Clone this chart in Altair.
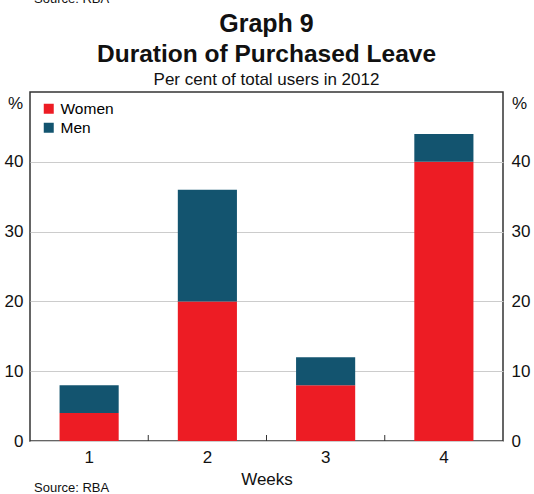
import altair as alt
import pandas as pd

weeks = ["1", "2", "3", "4"]
women = [4, 20, 8, 40]
men = [4, 16, 4, 4]
series = ["Women", "Men"]
colors = ["#ED1C24", "#13546F"]
y_ticks = [0, 10, 20, 30, 40]
boundaries = [1.5, 2.5, 3.5]

title1 = "Graph 9"
title2 = "Duration of Purchased Leave"
subtitle = "Per cent of total users in 2012"
x_title = "Weeks"
source = "Source: RBA"
unit = "%"

rows = []
for w, a, b in zip(weeks, women, men):
    rows.append({"week": w, "sex": "Women", "ord": 0, "value": a})
    rows.append({"week": w, "sex": "Men", "ord": 1, "value": b})
df = pd.DataFrame(rows)

FONT = "Liberation Sans"
W, H = 473, 349

bars = alt.Chart(df).mark_bar().encode(
    x=alt.X("week:N", sort=weeks,
            scale=alt.Scale(paddingInner=0.5, paddingOuter=0.25),
            axis=alt.Axis(title=x_title, labelAngle=0, ticks=False, domain=False,
                          labelFontSize=17, labelPadding=8, titleFontSize=17,
                          titleFontWeight="normal", titlePadding=6)),
    y=alt.Y("value:Q", stack="zero",
            scale=alt.Scale(domain=[0, 50], nice=False),
            axis=alt.Axis(orient="left", values=y_ticks, title=None, ticks=False,
                          domain=False, labelFontSize=17, labelPadding=7,
                          gridColor="#CCCCCC", gridWidth=1)),
    color=alt.Color("sex:N", scale=alt.Scale(domain=series, range=colors),
                    legend=alt.Legend(title=None, orient="none", legendX=11, legendY=9,
                                      symbolType="square", symbolSize=100,
                                      symbolStrokeWidth=0, symbolOpacity=1,
                                      labelFontSize=15.5, labelOffset=4,
                                      rowPadding=2, padding=0)),
    order=alt.Order("ord:Q"),
)

right_axis = alt.Chart(df).mark_point(opacity=0).encode(
    y=alt.Y("value:Q",
            scale=alt.Scale(domain=[0, 50], nice=False),
            axis=alt.Axis(orient="right", values=y_ticks, title=None, ticks=False,
                          domain=False, grid=False, labelFontSize=17, labelPadding=8)),
)

ticks = alt.Chart(pd.DataFrame({"b": boundaries})).mark_rule(color="#333333", strokeWidth=1).encode(
    x=alt.X("b:Q", scale=alt.Scale(domain=[0.5, 4.5]), axis=None),
    y=alt.value(H - 6),
    y2=alt.value(H),
)

def text_layer(txt, x, y, size, weight="normal", align="center"):
    return alt.Chart(pd.DataFrame({"t": [txt]})).mark_text(
        font=FONT, fontSize=size, fontWeight=weight, align=align,
        baseline="alphabetic", color="#111111"
    ).encode(text="t:N", x=alt.value(x), y=alt.value(y))

texts = [
    text_layer(title1, W / 2, -60, 25, "bold"),
    text_layer(title2, W / 2, -30, 24.5, "bold"),
    text_layer(subtitle, W / 2, -7, 17),
    text_layer(unit, -7, 17, 17, align="right"),
    text_layer(unit, W + 9, 17, 17, align="left"),
    text_layer(source, 4, 400, 13, align="left"),
    text_layer(source, 4, -89, 13, align="left"),
]

chart = alt.layer(bars, right_axis, ticks, *texts).resolve_scale(
    x="independent", y="independent"
).properties(
    width=W, height=H,
    autosize=alt.AutoSizeParams(type="none"),
    padding={"left": 30, "top": 92, "right": 31, "bottom": 53},
).configure(font=FONT).configure_view(
    stroke="#333333", strokeWidth=1.5
).configure_axis(labelColor="#111111", titleColor="#111111")

chart.save("out.html", embed_options={"renderer": "svg", "actions": False})
